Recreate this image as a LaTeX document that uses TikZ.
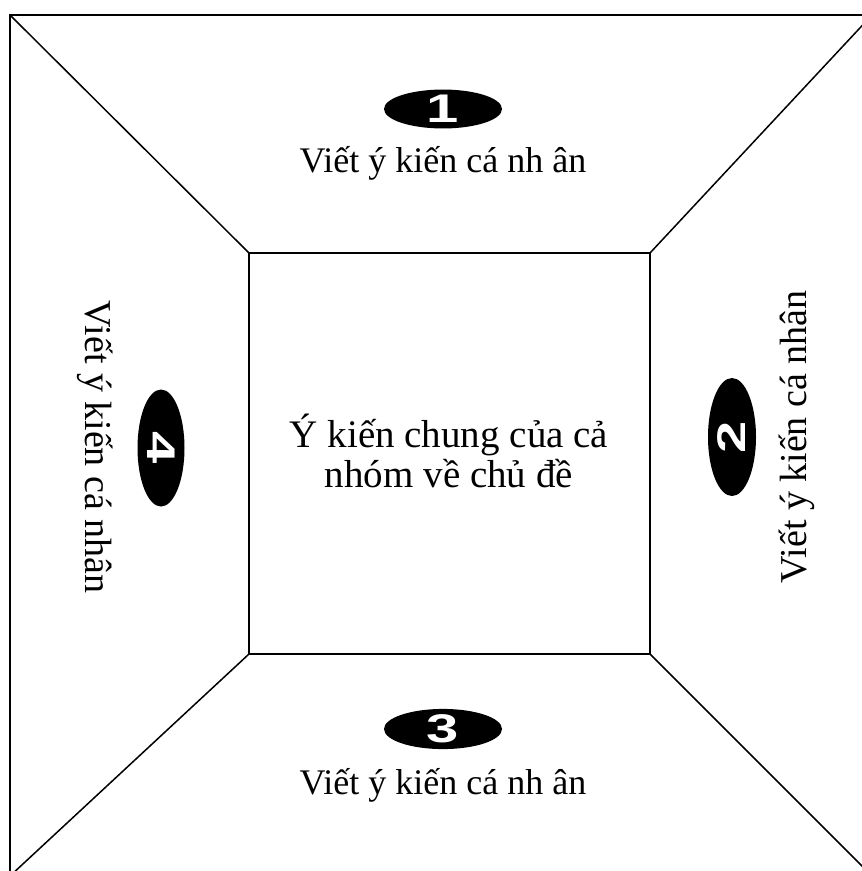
\documentclass[tikz,border=0pt]{standalone}
\usepackage{fontspec}
\setmainfont{Liberation Serif}
\newfontfamily\numfont{Liberation Sans}
\usetikzlibrary{shapes.geometric}

\tikzset{
  numblob/.style={ellipse, fill=black, inner sep=0pt, text=white, font=\numfont\bfseries\fontsize{40}{40}\selectfont},
  opinion/.style={font=\fontsize{36}{42}\selectfont, inner sep=0pt},
}
\newcommand{\blobdigit}[1]{\scalebox{1.45}[1]{#1}}

\begin{document}
\begin{tikzpicture}[x=1pt,y=-1pt]
      \useasboundingbox (0,0) rectangle (862,871);
      \clip (0,0) rectangle (862,871);
      % outer frame and inner square
      \coordinate (otl) at (10,15);
      \coordinate (otr) at (872,15);
      \coordinate (obr) at (872,876);
      \coordinate (obl) at (10,876);
      \coordinate (itl) at (249,253);
      \coordinate (itr) at (650,253);
      \coordinate (ibr) at (650,654);
      \coordinate (ibl) at (249,654);
      \draw[line width=2pt] (otl) rectangle (obr);
      \draw[line width=1.8pt] (itl) rectangle (ibr);
      \foreach \a/\b in {otl/itl,otr/itr,obr/ibr,obl/ibl}
        \draw[line width=1.5pt] (\a) -- (\b);
      % numbered blobs
      \node[numblob, minimum width=118pt, minimum height=34pt] (one) at (443,109) {\blobdigit{1}};
      \node[numblob, minimum width=48pt, minimum height=118pt] (two) at (732,437) {\rotatebox{90}{\blobdigit{2}}};
      \node[numblob, minimum width=118pt, minimum height=34pt] (three) at (443,729) {\blobdigit{3}};
      \node[numblob, minimum width=47pt, minimum height=117pt] (four) at (161,448) {\rotatebox{-90}{\blobdigit{4}}};
      % texts
      \node[opinion] (top) at (443,163) {Viết ý kiến cá nh ân};
      \node[opinion] (bottom) at (443,785) {Viết ý kiến cá nh ân};
      \node[opinion, font=\fontsize{38}{44}\selectfont, rotate=90] (right) at (797,437) {Viết ý kiến cá nhân};
      \node[opinion, font=\fontsize{38}{44}\selectfont, rotate=-90] (left) at (95,447) {Viết ý kiến cá nhân};
      \node[opinion, font=\fontsize{39}{40}\selectfont, align=center] (centre) at (449,451) {Ý kiến chung của cả\\nhóm về chủ đề};
\end{tikzpicture}
\end{document}
